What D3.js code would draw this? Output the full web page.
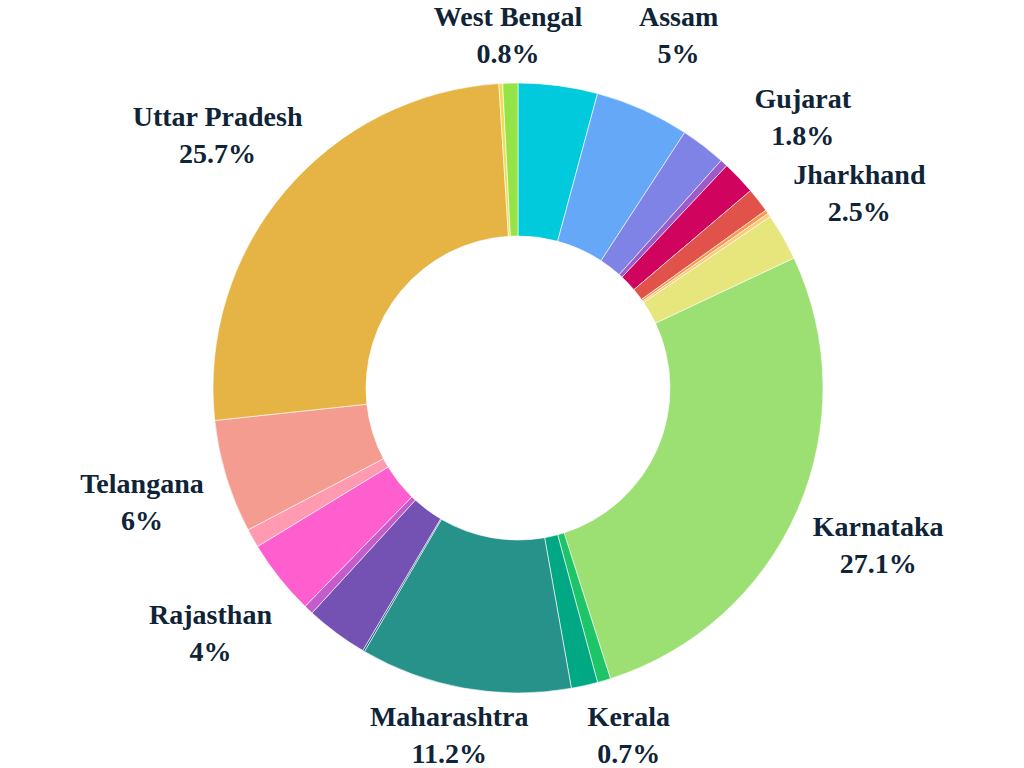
<!DOCTYPE html>
<html><head><meta charset="utf-8"><script src="https://cdn.jsdelivr.net/npm/d3@7"></script></head>
<body style="margin:0;background:#ffffff">
<svg id="s" width="1024" height="768"></svg>
<script>
// ---- data ----
const states = ["Andhra Pradesh","Assam","Bihar","Chhattisgarh","Gujarat","Haryana",
  "Himachal Pradesh","Jammu & Kashmir","Jharkhand","Karnataka","Kerala","Madhya Pradesh",
  "Maharashtra","Meghalaya","Odisha","Punjab","Rajasthan","Tamil Nadu","Telangana",
  "Uttar Pradesh","Uttarakhand","West Bengal"];
const shares = [4.2, 5, 2.4, 0.4, 1.8, 1.3, 0.2, 0.2, 2.5, 27.1, 0.7, 1.4,
  11.2, 0.1, 3.3, 0.5, 4, 1, 6, 25.7, 0.2, 0.8];
const colors = ["#00CADC","#65A8F8","#7F83E6","#9B5BCB","#D0035E","#E0524A",
  "#F89A4C","#FDC97E","#E6E67C","#9CDF72","#1DC468","#00A884",
  "#26928A","#1F6080","#7352B4","#C45CCB","#FF5ECF","#FF9AB0","#F39C8F",
  "#E6B345","#F0DC50","#94E448"];
const labeledStates = ["Assam","Gujarat","Jharkhand","Karnataka","Kerala","Maharashtra",
  "Rajasthan","Telangana","Uttar Pradesh","West Bengal"];

// ---- layout ----
const cx = 518, cy = 388;
const outerR = 305, innerR = 152, labelR = 393;

const svg = d3.select("#s");
const g = svg.append("g").attr("transform", `translate(${cx},${cy})`);

const data = states.map((s, i) => ({ state: s, value: shares[i], color: colors[i] }));

const pie = d3.pie().value(d => d.value).sort(null)
  .startAngle(0).endAngle(2 * Math.PI);
const arcs = pie(data);

const arc = d3.arc().innerRadius(innerR).outerRadius(outerR);
const labelArc = d3.arc().innerRadius(labelR).outerRadius(labelR);

g.selectAll("path")
  .data(arcs)
  .join("path")
  .attr("d", arc)
  .attr("fill", d => d.data.color)
  .attr("stroke", "#ffffff")
  .attr("stroke-width", 0.6);

const fmt = v => `${+v.toFixed(1)}%`;

const labelData = arcs.filter(d => labeledStates.includes(d.data.state)).map(d => {
  let [x, y] = labelArc.centroid(d);
  x += cx; y += cy;
  y = Math.max(35, Math.min(735, y));
  return { x, y, name: d.data.state, pct: fmt(d.data.value) };
});

const lines = [];
labelData.forEach(l => {
  lines.push({ x: l.x, y: l.y - 9, t: l.name });
  lines.push({ x: l.x, y: l.y + 28, t: l.pct });
});

svg.selectAll("text").data(lines).join("text")
  .attr("x", d => d.x).attr("y", d => d.y)
  .style("font-family", `"Liberation Serif", monospace`)
  .style("font-weight", "bold")
  .style("font-size", "28px")
  .style("fill", "#0F2437")
  .text(d => d.t)
  .each(function (d) {
    const len = this.getComputedTextLength();
    d3.select(this).attr("x", d.x - len / 2);
  });
</script></body></html>
